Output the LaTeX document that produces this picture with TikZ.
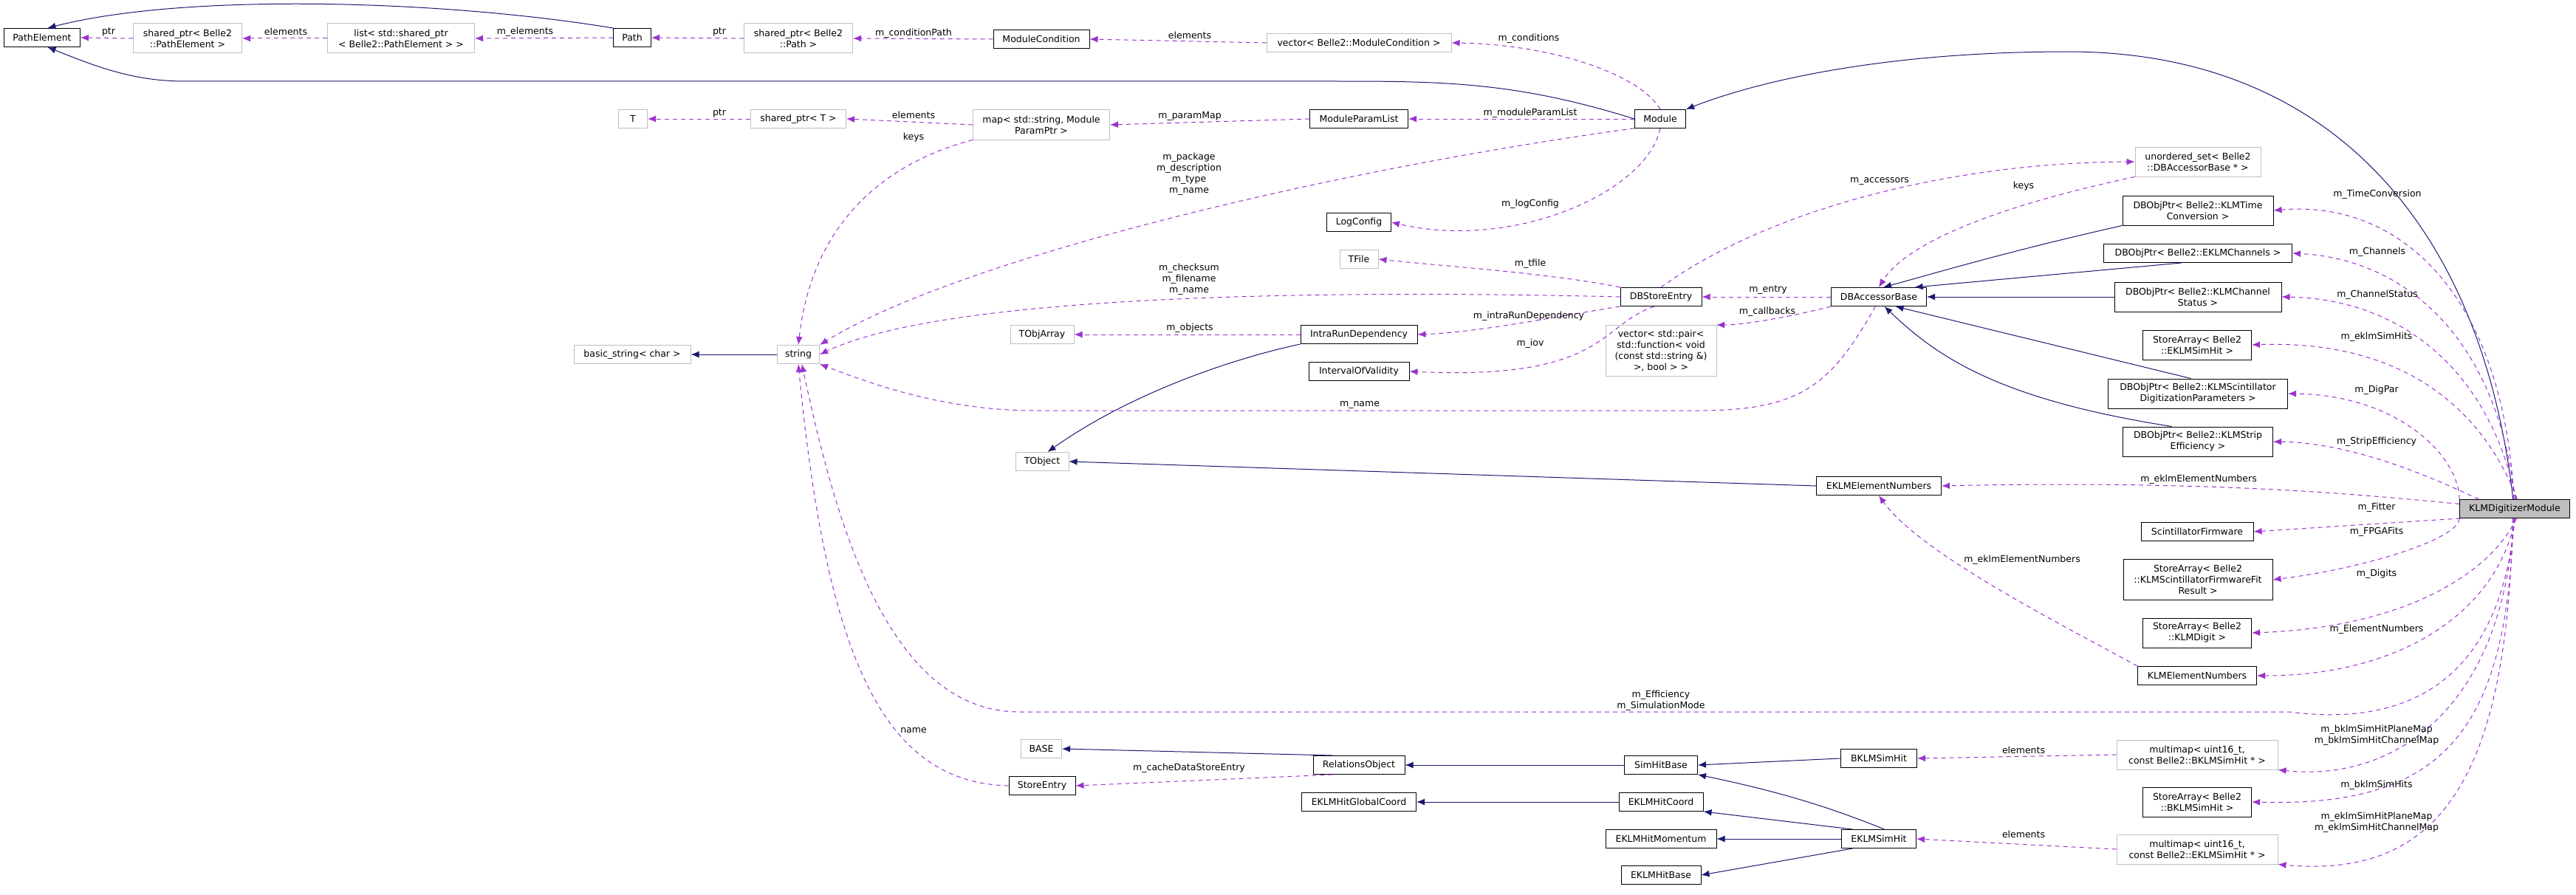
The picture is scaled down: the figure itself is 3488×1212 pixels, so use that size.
\documentclass[tikz,border=0pt]{standalone}
\usepackage{fontspec}
\setmainfont{DejaVu Sans}
\usetikzlibrary{arrows.meta,calc}
\definecolor{inh}{HTML}{191970}
\definecolor{usr}{HTML}{9A32CD}
\definecolor{gbox}{HTML}{BFBFBF}
\begin{document}
\begin{tikzpicture}[x=1pt,y=-1pt,
  every node/.style={font=\fontsize{12.5}{15}\selectfont, inner sep=0pt, align=center},
  bx/.style={draw=black, line width=1pt, fill=white, minimum height=25pt},
  gx/.style={draw=gbox, line width=1pt, fill=white, minimum height=25pt},
  inhe/.style={draw=inh, line width=1pt, -{Latex[length=11pt,width=9pt]}},
  use/.style={draw=usr, line width=1pt, dashed, dash pattern=on 6pt off 5pt, -{Latex[length=11pt,width=9pt]}},
  lbl/.style={fill=none}]
\useasboundingbox (0,0) rectangle (3488,1212);
% nodes
\node[bx, minimum width=103] (PE) at (57,51) {PathElement};
\node[gx, minimum width=147, minimum height=40] (SPPE) at (254,52) {shared\_ptr< Belle2\\::PathElement >};
\node[gx, minimum width=199, minimum height=40] (LST) at (543,52) {list< std::shared\_ptr\\< Belle2::PathElement > >};
\node[bx, minimum width=51] (PATH) at (856,51) {Path};
\node[gx, minimum width=147, minimum height=40] (SPP) at (1081,52) {shared\_ptr< Belle2\\::Path >};
\node[bx, minimum width=130] (MC) at (1410,53) {ModuleCondition};
\node[gx, minimum width=250] (VMC) at (1840,58) {vector< Belle2::ModuleCondition >};
\node[gx, minimum width=39] (T) at (857,161) {T};
\node[gx, minimum width=129] (SPT) at (1081,161) {shared\_ptr< T >};
\node[gx, minimum width=185, minimum height=40] (MAP) at (1410,169) {map< std::string, Module\\ParamPtr >};
\node[bx, minimum width=133] (MPL) at (1840,161) {ModuleParamList};
\node[bx, minimum width=69] (MOD) at (2248,161) {Module};
\node[bx, minimum width=87] (LOG) at (1840,301) {LogConfig};
\node[gx, minimum width=52] (TF) at (1840,351) {TFile};
\node[gx, minimum width=158] (BS) at (856,480) {basic\_string< char >};
\node[gx, minimum width=57] (STR) at (1081,480) {string};
\node[gx, minimum width=86] (TOA) at (1411,453) {TObjArray};
\node[gx, minimum width=72] (TOB) at (1411,625) {TObject};
\node[bx, minimum width=158] (IRD) at (1840,453) {IntraRunDependency};
\node[bx, minimum width=136] (IOV) at (1840,503) {IntervalOfValidity};
\node[bx, minimum width=110] (DBS) at (2249,402) {DBStoreEntry};
\node[bx, minimum width=129] (DBA) at (2544,402) {DBAccessorBase};
\node[gx, minimum width=150, minimum height=69] (VP) at (2249,475) {vector< std::pair<\\std::function< void\\(const std::string \&)\\>, bool > >};
\node[gx, minimum width=170, minimum height=40] (US) at (2976,219) {unordered\_set< Belle2\\::DBAccessorBase * >};
\node[bx, minimum width=204, minimum height=40] (TC) at (2976,285) {DBObjPtr< Belle2::KLMTime\\Conversion >};
\node[bx, minimum width=255] (EC) at (2976,343) {DBObjPtr< Belle2::EKLMChannels >};
\node[bx, minimum width=226, minimum height=40] (CS) at (2976,402) {DBObjPtr< Belle2::KLMChannel\\Status >};
\node[bx, minimum width=147, minimum height=40] (SAE) at (2975,467) {StoreArray< Belle2\\::EKLMSimHit >};
\node[bx, minimum width=243, minimum height=40] (DP) at (2976,533) {DBObjPtr< Belle2::KLMScintillator\\DigitizationParameters >};
\node[bx, minimum width=203, minimum height=40] (SE) at (2976,598) {DBObjPtr< Belle2::KLMStrip\\Efficiency >};
\node[bx, minimum width=169] (EEN) at (2544,658) {EKLMElementNumbers};
\node[bx, minimum width=149, fill={rgb,255:red,191;green,191;blue,191}] (K) at (3405,689) {KLMDigitizerModule};
\node[bx, minimum width=152] (SF) at (2975,720) {ScintillatorFirmware};
\node[bx, minimum width=202, minimum height=55] (FF) at (2976,785) {StoreArray< Belle2\\::KLMScintillatorFirmwareFit\\Result >};
\node[bx, minimum width=147, minimum height=40] (SAD) at (2975,857) {StoreArray< Belle2\\::KLMDigit >};
\node[bx, minimum width=161] (KEN) at (2975,915) {KLMElementNumbers};
\node[gx, minimum width=218, minimum height=40] (MMB) at (2975,1022) {multimap< uint16\_t,\\const Belle2::BKLMSimHit * >};
\node[bx, minimum width=147, minimum height=40] (SAB) at (2975,1086) {StoreArray< Belle2\\::BKLMSimHit >};
\node[gx, minimum width=218, minimum height=40] (MME) at (2975,1150) {multimap< uint16\_t,\\const Belle2::EKLMSimHit * >};
\node[bx, minimum width=103] (BSH) at (2544,1027) {BKLMSimHit};
\node[bx, minimum width=101] (ESH) at (2544,1136) {EKLMSimHit};
\node[bx, minimum width=99] (SHB) at (2249,1036) {SimHitBase};
\node[bx, minimum width=114] (EHC) at (2249,1086) {EKLMHitCoord};
\node[bx, minimum width=150] (EHM) at (2249,1136) {EKLMHitMomentum};
\node[bx, minimum width=108] (EHB) at (2249,1185) {EKLMHitBase};
\node[gx, minimum width=55] (BASE) at (1410,1014) {BASE};
\node[bx, minimum width=90] (STE) at (1411,1064) {StoreEntry};
\node[bx, minimum width=124] (RO) at (1840,1036) {RelationsObject};
\node[bx, minimum width=155] (EGC) at (1840,1086) {EKLMHitGlobalCoord};
% inheritance
\draw[inhe] (PATH.north west) .. controls (600,0) and (250,-10) .. (PE.60);
\draw[inhe] (MOD.west) .. controls (2050,110) and (1950,110) .. (1800,110) -- (250,110) .. controls (180,110) and (130,90) .. (PE.300);
\draw[inhe] (K.100) .. controls (3360,300) and (3150,70) .. (2800,70) .. controls (2550,70) and (2380,110) .. (MOD.north east);
\draw[inhe] (TC.south west) .. controls (2720,340) and (2620,370) .. (DBA.65);
\draw[inhe] (EC.210) -- (DBA.15);
\draw[inhe] (CS.west) -- (DBA.east);
\draw[inhe] (DP.115) -- (DBA.330);
\draw[inhe] (SE.150) .. controls (2700,540) and (2620,480) .. (DBA.300);
\draw[inhe] (IRD.south west) .. controls (1650,490) and (1520,540) .. (TOB.60);
\draw[inhe] (EEN.west) -- (TOB.east);
\draw[inhe] (STR.west) -- (BS.east);
\draw[inhe] (RO.160) -- (BASE.east);
\draw[inhe] (SHB.west) -- (RO.east);
\draw[inhe] (BSH.west) -- (SHB.east);
\draw[inhe] (ESH.60) .. controls (2470,1090) and (2400,1070) .. (SHB.south east);
\draw[inhe] (EHC.west) -- (EGC.east);
\draw[inhe] (ESH.160) -- (EHC.south east);
\draw[inhe] (ESH.west) -- (EHM.east);
\draw[inhe] (ESH.200) -- (EHB.east);
% usage
\draw[use] (SPPE.west) -- (PE.east);
\draw[use] (LST.west) -- (SPPE.east);
\draw[use] (PATH.west) -- (LST.east);
\draw[use] (SPP.west) -- (PATH.east);
\draw[use] (MC.west) -- (SPP.east);
\draw[use] (VMC.west) -- (MC.east);
\draw[use] (MOD.north) .. controls (2220,100) and (2100,60) .. (VMC.east);
\draw[use] (SPT.west) -- (T.east);
\draw[use] (MAP.west) -- (SPT.east);
\draw[use] (MAP.south west) .. controls (1200,220) and (1100,300) .. (STR.north);
\draw[use] (MPL.west) -- (MAP.east);
\draw[use] (MOD.west) -- (MPL.east);
\draw[use] (MOD.200) .. controls (1800,230) and (1300,350) .. (STR.north east);
\draw[use] (MOD.south) .. controls (2230,260) and (2050,340) .. (LOG.east);
\draw[use] (DBS.north west) .. controls (2100,370) and (1950,360) .. (TF.east);
\draw[use] (DBS.west) .. controls (1900,395) and (1300,390) .. (STR.east);
\draw[use] (DBS.south west) .. controls (2100,430) and (2000,450) .. (IRD.east);
\draw[use] (DBS.235) .. controls (2165,440) and (2175,515) .. (IOV.east);
\draw[use] (IRD.west) -- (TOA.east);
\draw[use] (DBA.250) .. controls (2480,520) and (2440,556) .. (2300,556) -- (1400,556) .. controls (1280,556) and (1180,520) .. (STR.south east);
\draw[use] (DBA.west) -- (DBS.east);
\draw[use] (DBA.south west) .. controls (2420,430) and (2360,440) .. (VP.25);
\draw[use] (DBS.north) .. controls (2400,280) and (2650,220) .. (US.west);
\draw[use] (US.south west) .. controls (2700,280) and (2580,330) .. (DBA.north);
\draw[use] (K.95) .. controls (3390,400) and (3250,270) .. (TC.east);
\draw[use] (K.88) .. controls (3380,450) and (3250,350) .. (EC.east);
\draw[use] (K.82) .. controls (3370,500) and (3250,405) .. (CS.east);
\draw[use] (K.75) .. controls (3360,550) and (3250,460) .. (SAE.east);
\draw[use] (K.north west) .. controls (3330,620) and (3250,535) .. (DP.east);
\draw[use] (K.165) .. controls (3320,660) and (3200,600) .. (SE.east);
\draw[use] (K.175) .. controls (3200,670) and (3000,650) .. (EEN.east);
\draw[use] (K.190) -- (SF.east);
\draw[use] (K.south west) .. controls (3330,730) and (3200,770) .. (FF.east);
\draw[use] (K.280) .. controls (3370,780) and (3250,850) .. (SAD.east);
\draw[use] (K.275) .. controls (3380,830) and (3250,915) .. (KEN.east);
\draw[use] (K.270) .. controls (3390,880) and (3300,990) .. (3100,964) -- (1380,964) .. controls (1200,964) and (1130,700) .. (STR.290);
\draw[use] (K.265) .. controls (3390,950) and (3250,1060) .. (MMB.south east);
\draw[use] (K.262) .. controls (3395,1000) and (3300,1093) .. (SAB.east);
\draw[use] (K.258) .. controls (3395,1060) and (3300,1190) .. (MME.south east);
\draw[use] (MMB.west) -- (BSH.east);
\draw[use] (MME.west) -- (ESH.east);
\draw[use] (KEN.north west) .. controls (2800,850) and (2600,750) .. (EEN.south);
\draw[use] (RO.200) -- (STE.east);
\draw[use] (STE.west) .. controls (1200,1060) and (1120,900) .. (STR.south);
% labels
\node[lbl] (a1) at (147,43) {ptr};
\node[lbl] (a2) at (387,43) {elements};
\node[lbl] (a3) at (711,43) {m\_elements};
\node[lbl] (a4) at (974,43) {ptr};
\node[lbl] (a5) at (1237,45) {m\_conditionPath};
\node[lbl] (a6) at (1611,48) {elements};
\node[lbl] (a7) at (2070,52) {m\_conditions};
\node[lbl] (a8) at (974,153) {ptr};
\node[lbl] (a9) at (1237,156) {elements};
\node[lbl] (a10) at (1237,186) {keys};
\node[lbl] (a11) at (1611,157) {m\_paramMap};
\node[lbl] (a12) at (2072,153) {m\_moduleParamList};
\node[lbl] (a13) at (1610,236) {m\_package\\m\_description\\m\_type\\m\_name};
\node[lbl] (a14) at (2072,276) {m\_logConfig};
\node[lbl] (a15) at (2072,357) {m\_tfile};
\node[lbl] (a16) at (1610,378) {m\_checksum\\m\_filename\\m\_name};
\node[lbl] (a17) at (1611,444) {m\_objects};
\node[lbl] (a18) at (2070,428) {m\_intraRunDependency};
\node[lbl] (a19) at (2072,465) {m\_iov};
\node[lbl] (a20) at (1841,548) {m\_name};
\node[lbl] (a21) at (2545,245) {m\_accessors};
\node[lbl] (a22) at (2740,252) {keys};
\node[lbl] (a23) at (2394,393) {m\_entry};
\node[lbl] (a24) at (2393,422) {m\_callbacks};
\node[lbl] (a25) at (3219,263) {m\_TimeConversion};
\node[lbl] (a26) at (3219,341) {m\_Channels};
\node[lbl] (a27) at (3219,399) {m\_ChannelStatus};
\node[lbl] (a28) at (3218,456) {m\_eklmSimHits};
\node[lbl] (a29) at (3218,528) {m\_DigPar};
\node[lbl] (a30) at (3218,598) {m\_StripEfficiency};
\node[lbl] (a31) at (2977,649) {m\_eklmElementNumbers};
\node[lbl] (a32) at (3218,687) {m\_Fitter};
\node[lbl] (a33) at (3218,720) {m\_FPGAFits};
\node[lbl] (a34) at (3218,777) {m\_Digits};
\node[lbl] (a35) at (2738,758) {m\_eklmElementNumbers};
\node[lbl] (a36) at (3218,852) {m\_ElementNumbers};
\node[lbl] (a37) at (2249,949) {m\_Efficiency\\m\_SimulationMode};
\node[lbl] (a38) at (2740,1016) {elements};
\node[lbl] (a39) at (3218,996) {m\_bklmSimHitPlaneMap\\m\_bklmSimHitChannelMap};
\node[lbl] (a40) at (3218,1063) {m\_bklmSimHits};
\node[lbl] (a41) at (2740,1130) {elements};
\node[lbl] (a42) at (3218,1114) {m\_eklmSimHitPlaneMap\\m\_eklmSimHitChannelMap};
\node[lbl] (a43) at (1237,989) {name};
\node[lbl] (a44) at (1610,1040) {m\_cacheDataStoreEntry};
\end{tikzpicture}
\end{document}
